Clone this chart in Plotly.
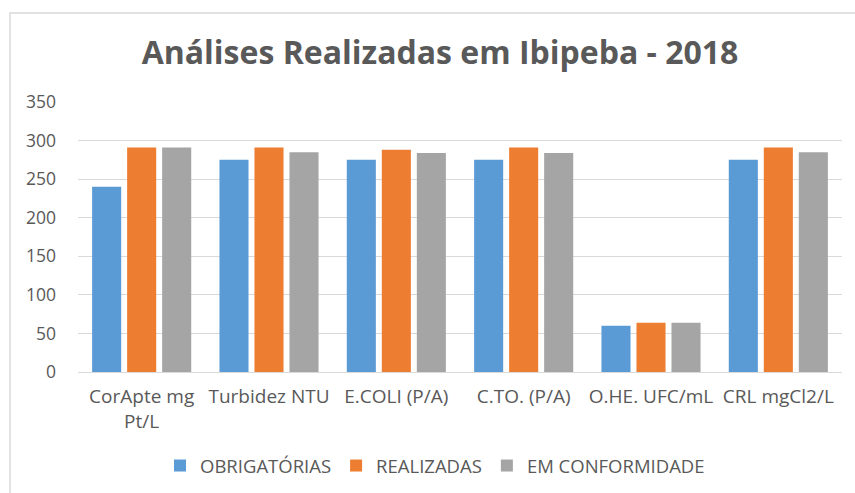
import plotly.graph_objects as go

categories = ["CorApte mg<br>Pt/L", "Turbidez NTU", "E.COLI (P/A)", "C.TO. (P/A)", "O.HE. UFC/mL", "CRL mgCl2/L"]
obrigatorias = [240, 275, 275, 275, 60, 275]
realizadas = [291, 291, 288, 291, 64, 291]
em_conformidade = [291, 285, 284, 284, 64, 285]
y_ticks = [0, 50, 100, 150, 200, 250, 300, 350]

TXT = "#595959"
FONT = "Open Sans"

fig = go.Figure()
for name, vals, col in [
    ("OBRIGATÓRIAS", obrigatorias, "#5B9BD5"),
    ("REALIZADAS", realizadas, "#ED7D31"),
    ("EM CONFORMIDADE", em_conformidade, "#A5A5A5"),
]:
    fig.add_trace(go.Bar(x=categories, y=vals, name=name, marker=dict(color=col, line=dict(width=0))))

W, H = 855, 493
L, R, T, B = 78, 13, 102, 121
pw, ph = W - L - R, H - T - B

fig.update_layout(
    width=W, height=H,
    margin=dict(l=L, r=R, t=T, b=B, autoexpand=False),
    paper_bgcolor="white", plot_bgcolor="white",
    barmode="group", bargap=0.175, bargroupgap=0.17,
    font=dict(family=FONT, color=TXT, size=14),
    title=dict(text="<b>Análises Realizadas em Ibipeba - 2018</b>", x=440 / W, xanchor="center",
               y=1 - 53 / H, yanchor="middle", font=dict(family=FONT, size=32, color=TXT)),
    xaxis=dict(showgrid=False, showline=True, linecolor="#D9D9D9", linewidth=1, automargin=False,
               ticks="", tickfont=dict(size=19, color=TXT), ticklabelstandoff=7),
    yaxis=dict(range=[0, 350], tickvals=y_ticks, showgrid=True, gridcolor="#D9D9D9", gridwidth=1,
               automargin=False, zeroline=False, showline=False, ticks="",
               tickfont=dict(size=17.5, color=TXT), ticklabelstandoff=21),
    legend=dict(orientation="h", x=(160 - L) / pw, xanchor="left", y=-(466 - (H - B)) / ph, yanchor="middle",
                font=dict(size=18.5, color=TXT), itemwidth=30, traceorder="normal"),
    showlegend=True,
)
fig.add_shape(type="rect", xref="paper", yref="paper",
              x0=(10 - L) / pw, x1=1 + 30 / pw, y0=-(B + 30) / ph, y1=1 + (T - 13) / ph,
              line=dict(color="#D9D9D9", width=1.5), fillcolor="rgba(0,0,0,0)", layer="below")
fig.write_html("out.html", post_script="document.body.style.margin='0';",
               config={"displayModeBar": False})
